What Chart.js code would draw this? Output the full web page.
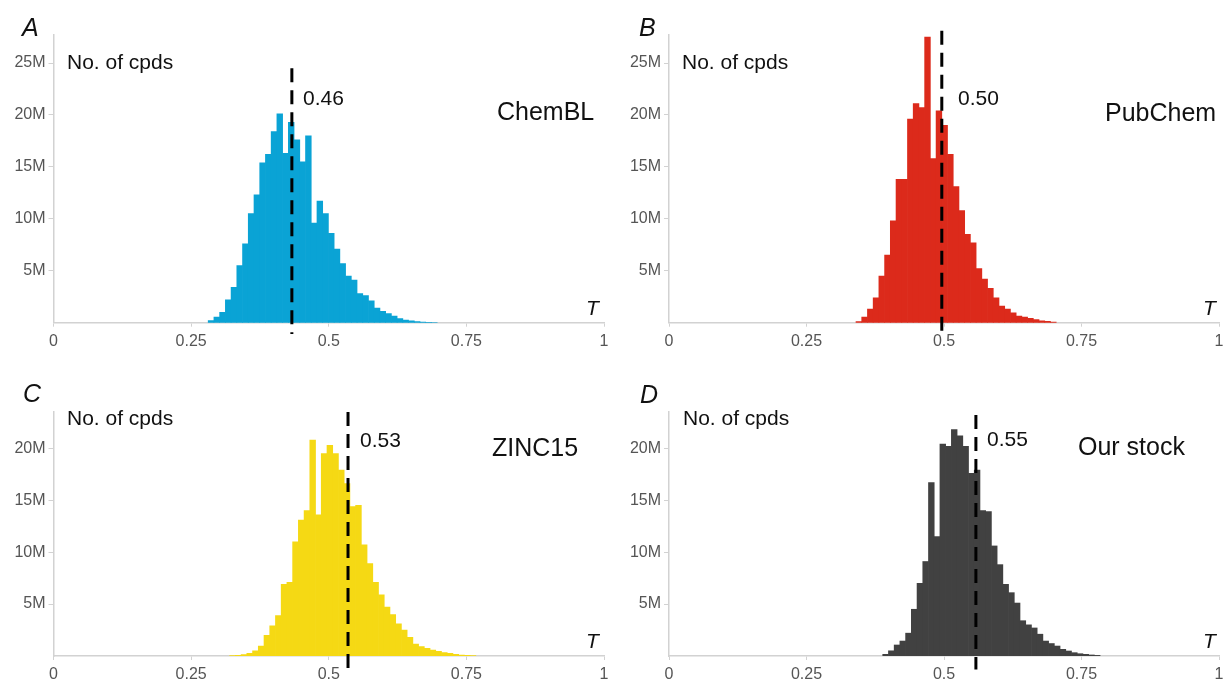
<!DOCTYPE html>
<html>
<head>
<meta charset="utf-8">
<script src="https://cdn.jsdelivr.net/npm/chart.js@4.4.0/dist/chart.umd.min.js"></script>
<style>
    html, body { margin: 0; padding: 0; background: #fff; }
    #lienzo { position: relative; width: 1231px; height: 686px; overflow: hidden; font-family: "Liberation Sans", Arial, sans-serif; }
    canvas { position: absolute; }
    .txt { position: absolute; white-space: nowrap; line-height: 1; transform: translateY(-50%); color: #111; }
    .letra { font-style: italic; font-size: 25px; }
    .ejeY { font-size: 21px; }
    .valor { font-size: 21px; }
    .base { font-size: 25px; }
    .t { font-style: italic; font-size: 21px; }
</style>
</head>
<body>
<div id="lienzo"></div>
<script>
// ancho de cada barra del histograma (en unidades de T)
const anchoBin = 0.0104;

const ticksX = [0, 0.25, 0.5, 0.75, 1];
const ticksY25 = [5, 10, 15, 20, 25];
const ticksY20 = [5, 10, 15, 20];

// ChemBL (millones de compuestos por barra)
const inicioChemBL = 0.281;
const conteosChemBL = [0.2, 0.55, 1.0, 2.2, 3.4, 5.5, 7.6, 10.5, 12.3, 15.4, 16.2, 18.4, 20.1, 16.3, 19.3, 17.6,
    15.5, 18.0, 9.6, 11.7, 10.5, 8.6, 7.1, 5.7, 4.5, 4.1, 2.8, 2.6, 2.1, 1.4, 1.1, 0.87, 0.64, 0.4, 0.26, 0.17,
    0.1, 0.06, 0.03, 0.02];
const medianaChemBL = 0.433;

// PubChem
const inicioPubChem = 0.340;
const conteosPubChem = [0.1, 0.55, 1.3, 2.4, 4.5, 6.5, 9.8, 13.8, 13.8, 19.6, 21.1, 20.7, 27.5, 15.8, 20.4, 19.0,
    16.2, 13.1, 10.8, 8.5, 7.7, 5.2, 4.2, 3.3, 2.4, 1.6, 1.3, 0.96, 0.64, 0.54, 0.42, 0.29, 0.19, 0.13, 0.06];
const medianaPubChem = 0.496;

// ZINC15
const inicioZinc = 0.320;
const conteosZinc = [0.03, 0.06, 0.13, 0.26, 0.5, 0.96, 2.0, 2.9, 3.9, 6.9, 7.1, 11.0, 13.1, 14.0, 20.8, 13.6,
    19.5, 20.3, 19.5, 17.9, 16.6, 14.4, 14.5, 10.7, 8.9, 7.1, 5.9, 4.7, 4.0, 3.1, 2.5, 1.8, 1.15, 0.9, 0.74,
    0.58, 0.45, 0.32, 0.26, 0.16, 0.1, 0.06, 0.04];
const medianaZinc = 0.535;

// Our stock
const inicioStock = 0.3886;
const conteosStock = [0.16, 0.5, 1.06, 1.44, 2.2, 4.5, 7.0, 9.1, 16.7, 11.5, 20.4, 20.2, 21.8, 21.2, 20.2, 17.6,
    17.9, 14.0, 13.9, 10.6, 8.8, 6.9, 6.1, 5.1, 3.4, 3.0, 2.7, 2.1, 1.44, 1.2, 0.96, 0.64, 0.48, 0.32, 0.22,
    0.16, 0.1, 0.06];
const medianaStock = 0.558;

const paneles = [
    { izq: 0, arriba: 0, ancho: 615, alto: 360, padTop: 35, padRight: 11, anchoY: 53.5, altoX: 37.3, tope: 27.7,
      color: '#0aa3d5', inicio: inicioChemBL, conteos: conteosChemBL, mediana: medianaChemBL, ticksY: ticksY25, linea: [24.5, -1.1] },
    { izq: 615, arriba: 0, ancho: 616, alto: 360, padTop: 35, padRight: 12, anchoY: 54, altoX: 37.3, tope: 27.7,
      color: '#dc2a1b', inicio: inicioPubChem, conteos: conteosPubChem, mediana: medianaPubChem, ticksY: ticksY25, linea: [28.1, -1.1] },
    { izq: 0, arriba: 340, ancho: 615, alto: 346, padTop: 72, padRight: 11, anchoY: 53.5, altoX: 30, tope: 23.5,
      color: '#f5d914', inicio: inicioZinc, conteos: conteosZinc, mediana: medianaZinc, ticksY: ticksY20, linea: [23.5, -1.2] },
    { izq: 615, arriba: 340, ancho: 616, alto: 346, padTop: 72, padRight: 12, anchoY: 54, altoX: 30, tope: 23.5,
      color: '#414141', inicio: inicioStock, conteos: conteosStock, mediana: medianaStock, ticksY: ticksY20, linea: [23.2, -1.3] }
];

const textos = [
    ['A', 22, 27, 'letra'], ['No. of cpds', 67, 61, 'ejeY'], ['0.46', 303, 97, 'valor'], ['ChemBL', 497, 111, 'base'], ['T', 586, 307, 't'],
    ['B', 639, 27, 'letra'], ['No. of cpds', 682, 61, 'ejeY'], ['0.50', 958, 97, 'valor'], ['PubChem', 1105, 112, 'base'], ['T', 1203, 307, 't'],
    ['C', 23, 393, 'letra'], ['No. of cpds', 67, 417, 'ejeY'], ['0.53', 360, 439, 'valor'], ['ZINC15', 492, 447, 'base'], ['T', 586, 640, 't'],
    ['D', 640, 394, 'letra'], ['No. of cpds', 683, 417, 'ejeY'], ['0.55', 987, 438, 'valor'], ['Our stock', 1078, 446, 'base'], ['T', 1203, 640, 't']
];

const fuente = '"Liberation Sans", Arial, sans-serif';
const grisEje = '#d2d2d2';
const lienzo = document.getElementById('lienzo');

paneles.forEach(p => {
    const canvas = document.createElement('canvas');
    canvas.width = p.ancho;
    canvas.height = p.alto;
    canvas.style.left = p.izq + 'px';
    canvas.style.top = p.arriba + 'px';
    canvas.style.width = p.ancho + 'px';
    canvas.style.height = p.alto + 'px';
    lienzo.appendChild(canvas);

    new Chart(canvas, {
        type: 'bar',
        data: {
            datasets: [{
                // linea punteada de la mediana
                type: 'line',
                data: p.linea.map(y => ({ x: p.mediana, y: y })),
                borderColor: '#000',
                borderWidth: 3,
                borderDash: [14, 8],
                pointRadius: 0,
                clip: false,
                order: 0
            }, {
                data: p.conteos.map((v, i) => ({ x: p.inicio + anchoBin * (i + 0.5), y: v })),
                backgroundColor: p.color,
                borderWidth: 0,
                barPercentage: 1,
                categoryPercentage: 1,
                order: 1
            }]
        },
        options: {
            responsive: false,
            animation: false,
            devicePixelRatio: 1,
            layout: { padding: { top: p.padTop, right: p.padRight, bottom: 0, left: 0 } },
            plugins: {
                legend: { display: false },
                tooltip: { enabled: false }
            },
            scales: {
                x: {
                    type: 'linear',
                    min: 0,
                    max: 1,
                    offset: false,
                    afterFit: s => { s.height = p.altoX; },
                    afterBuildTicks: s => { s.ticks = ticksX.map(v => ({ value: v })); },
                    grid: { offset: false, drawOnChartArea: false, tickLength: 4, color: grisEje },
                    border: { color: grisEje, width: 1.5 },
                    ticks: { maxRotation: 0, autoSkip: false, padding: 5, color: '#555', font: { size: 16, family: fuente },
                        callback: v => String(v) }
                },
                y: {
                    min: 0,
                    max: p.tope,
                    afterFit: s => { s.width = p.anchoY; },
                    afterBuildTicks: s => { s.ticks = p.ticksY.map(v => ({ value: v })); },
                    grid: { drawOnChartArea: false, tickLength: 5, color: grisEje },
                    border: { color: grisEje, width: 1.5 },
                    ticks: { padding: 3, color: '#555', font: { size: 16, family: fuente },
                        callback: v => v + 'M' }
                }
            }
        }
    });
});

textos.forEach(([texto, x, y, clase]) => {
    const div = document.createElement('div');
    div.className = 'txt ' + clase;
    div.style.left = x + 'px';
    div.style.top = y + 'px';
    div.textContent = texto;
    lienzo.appendChild(div);
});
</script>
</body>
</html>
